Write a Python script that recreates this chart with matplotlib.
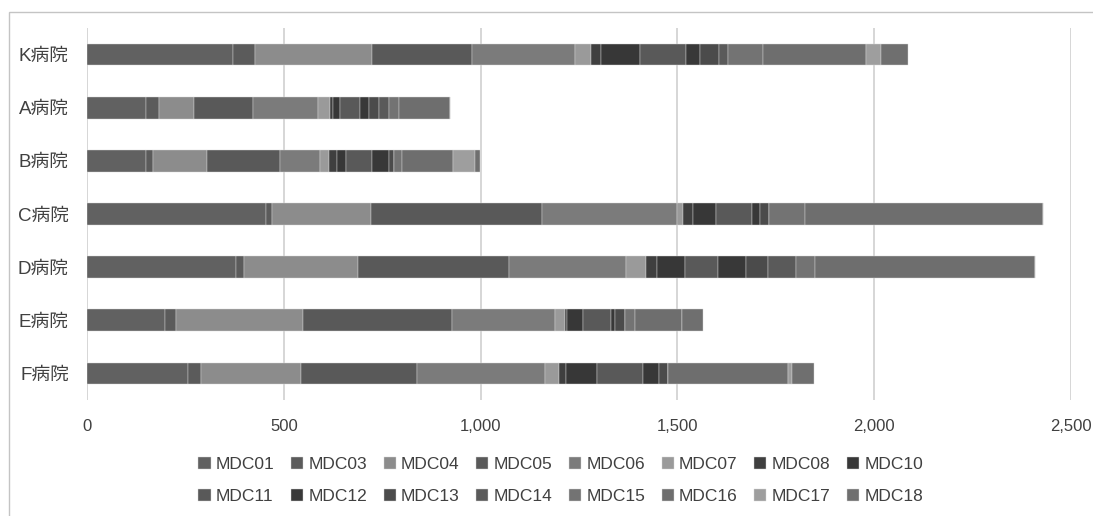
import numpy as np
import matplotlib
matplotlib.use("Agg")
import matplotlib.pyplot as plt
from matplotlib.patches import Rectangle
from matplotlib.ticker import FuncFormatter

plt.rcParams['font.family'] = ['Liberation Sans', 'Noto Sans CJK JP', 'DejaVu Sans']

# Hospitals, top to bottom
hospitals = ["K病院", "A病院", "B病院", "C病院", "D病院", "E病院", "F病院"]

# Case counts per MDC, one list per category (same order as hospitals)
mdc01 = [372, 151, 151, 454, 378, 197, 256]
mdc03 = [56, 33, 17, 17, 22, 30, 34]
mdc04 = [297, 88, 138, 250, 288, 322, 253]
mdc05 = [253, 149, 184, 435, 384, 378, 295]
mdc06 = [263, 165, 102, 342, 298, 261, 325]
mdc07 = [39, 32, 23, 17, 51, 27, 36]
mdc08 = [27, 8, 20, 24, 28, 5, 17]
mdc10 = [97, 17, 23, 58, 70, 41, 79]
mdc11 = [118, 50, 67, 92, 85, 70, 117]
mdc12 = [36, 23, 42, 21, 70, 10, 42]
mdc13 = [47, 26, 14, 22, 55, 25, 21]
mdc14 = [24, 26, 0, 0, 72, 0, 0]
mdc15 = [89, 25, 20, 91, 48, 27, 0]
mdc16 = [260, 129, 130, 605, 560, 118, 306]
mdc17 = [40, 0, 54, 0, 0, 0, 10]
mdc18 = [69, 0, 13, 0, 0, 53, 55]

series = {
    "MDC01": mdc01, "MDC03": mdc03, "MDC04": mdc04, "MDC05": mdc05,
    "MDC06": mdc06, "MDC07": mdc07, "MDC08": mdc08, "MDC10": mdc10,
    "MDC11": mdc11, "MDC12": mdc12, "MDC13": mdc13, "MDC14": mdc14,
    "MDC15": mdc15, "MDC16": mdc16, "MDC17": mdc17, "MDC18": mdc18,
}

# grayscale palette
colors = {
    "MDC01": "#616161", "MDC03": "#5b5b5b", "MDC04": "#8c8c8c", "MDC05": "#595959",
    "MDC06": "#7b7b7b", "MDC07": "#9a9a9a", "MDC08": "#3f3f3f", "MDC10": "#373737",
    "MDC11": "#595959", "MDC12": "#383838", "MDC13": "#4b4b4b", "MDC14": "#5a5a5a",
    "MDC15": "#737373", "MDC16": "#6e6e6e", "MDC17": "#9e9e9e", "MDC18": "#6f6f6f",
}

W, H = 1093, 516
fig = plt.figure(figsize=(W / 100, H / 100), dpi=100)
ax = fig.add_axes([87 / W, 1 - 400 / H, (1071 - 87) / W, (400 - 28) / H])

y = np.arange(len(hospitals))
left = np.zeros(len(hospitals))
for name, vals in series.items():
    vals = np.array(vals, dtype=float)
    ax.barh(y, vals, left=left, height=0.41, color=colors[name], label=name,
            edgecolor="#d8d8d8", linewidth=0.3, zorder=3)
    left += vals

ax.set_ylim(len(hospitals) - 0.5, -0.5)
ax.set_yticks(y)
ax.set_yticklabels(hospitals, fontsize=13.5, color="#404040")
ax.set_xlim(0, 2500)
ax.set_xticks(np.arange(0, 2501, 500))
ax.xaxis.set_major_formatter(FuncFormatter(lambda v, p: f"{int(v):,}"))
ax.tick_params(axis="x", labelsize=12, colors="#404040", length=0, pad=14)
ax.tick_params(axis="y", length=0, pad=13)
ax.grid(axis="x", color="#d0d0d0", linewidth=1.2, zorder=0)
ax.set_axisbelow(True)
for s in ax.spines.values():
    s.set_visible(False)

# legend filled row by row: 8 per row
handles, labels = ax.get_legend_handles_labels()
order = [i + r * 8 for i in range(8) for r in range(2)]
fig.legend([handles[i] for i in order], [labels[i] for i in order],
           loc="upper center", bbox_to_anchor=(0.513, 1 - 441 / H), ncol=8,
           frameon=False, fontsize=12.5, handlelength=0.7, handleheight=0.7,
           handletextpad=0.3, columnspacing=0.95, labelspacing=1.0,
           labelcolor="#404040")

# outer chart border
fig.patches.append(Rectangle((9 / W, -0.01), 1.1, 1 - 12 / H + 0.01,
                             transform=fig.transFigure, fill=False,
                             edgecolor="#c4c4c4", linewidth=1.0))

fig.savefig("out.png", dpi=100, facecolor="white")
